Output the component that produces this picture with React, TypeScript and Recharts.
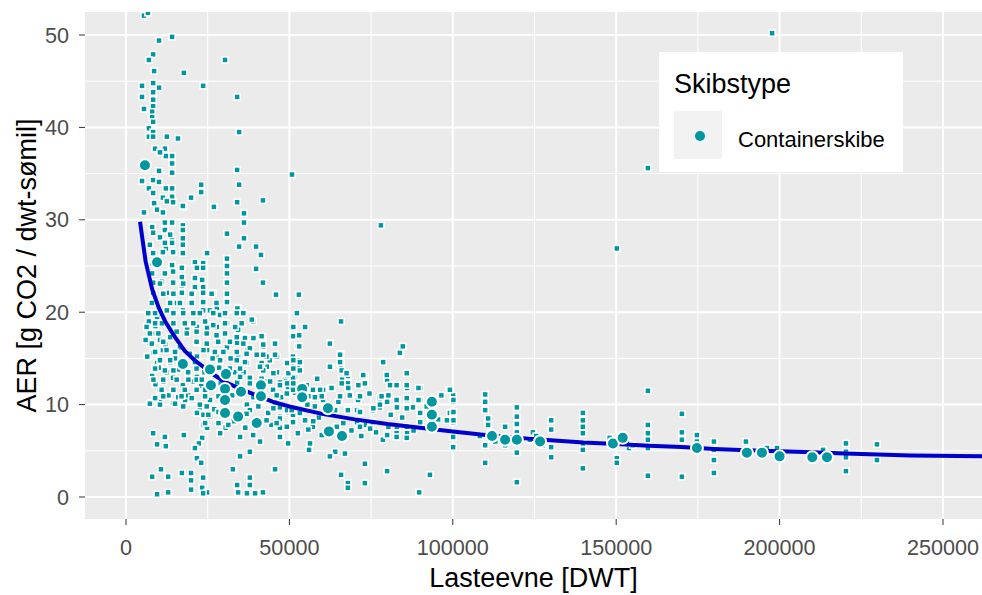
import { ScatterChart, Scatter, XAxis, YAxis, CartesianGrid, Legend } from 'recharts'

document.body.style.margin = '0'

const TEAL = '#0097A0'
const FIT_BLUE = '#0000CD'
const FONT = '"Liberation Sans", Arial, sans-serif'

const xTicks = [0, 50000, 100000, 150000, 200000, 250000]
const xMinor = [25000, 75000, 125000, 175000, 225000]
const yTicks = [0, 10, 20, 30, 40, 50]
const yMinor = [5, 15, 25, 35, 45]

// [lasteevne in 1000 DWT, AER]
const smallShips: [number, number][] = [
  [5.5, 52.1], [6.7, 52.4], [14.1, 49.8], [10.1, 49.4], [8.3, 47.9], [7.0, 47.3], [30.3, 47.3], [8.6, 46.1],
  [17.7, 45.9], [4.9, 44.5], [10.1, 44.3], [23.6, 44.5], [8.3, 44.8], [4.9, 43.3], [8.3, 43.8], [34.0, 43.3],
  [8.3, 43.0], [5.5, 42.0], [8.3, 42.3], [8.0, 41.7], [8.0, 41.1], [8.3, 40.6], [7.0, 39.9], [8.3, 39.5],
  [34.6, 39.5], [7.0, 39.0], [8.3, 39.0], [12.5, 39.0], [15.9, 38.8], [8.9, 37.7], [11.9, 37.7], [12.2, 36.9],
  [14.1, 36.9], [10.4, 37.3], [14.1, 36.1], [34.0, 35.4], [50.8, 34.9], [10.1, 35.3], [14.1, 35.1], [4.9, 34.2],
  [8.3, 34.3], [10.1, 34.1], [23.0, 33.8], [34.6, 33.8], [7.0, 33.4], [12.2, 33.4], [14.1, 33.4], [23.0, 33.0],
  [19.9, 32.4], [8.3, 32.9], [11.3, 32.4], [14.1, 32.5], [41.9, 32.1], [34.0, 31.9], [8.6, 31.8], [12.5, 32.0],
  [14.4, 31.9], [17.7, 31.4], [26.9, 31.4], [36.1, 30.7], [5.5, 30.8], [9.5, 31.1], [11.3, 30.8], [36.1, 29.7],
  [30.9, 28.5], [36.1, 28.0], [34.6, 27.1], [39.8, 27.1], [41.3, 26.2], [24.8, 26.4], [17.4, 29.4], [17.4, 28.9],
  [17.4, 28.0], [17.4, 27.3], [17.4, 26.4], [14.1, 29.7], [11.9, 28.9], [14.1, 27.8], [12.2, 26.9], [30.9, 25.8],
  [30.9, 25.0], [39.8, 24.7], [41.9, 23.2], [30.9, 24.2], [30.9, 23.2], [21.1, 25.4], [23.6, 25.3], [21.7, 24.8],
  [23.6, 24.8], [45.9, 21.9], [52.9, 21.9], [26.6, 22.1], [21.1, 23.7], [23.6, 22.7], [17.4, 31.5],
  [78.0, 29.4], [150.2, 26.9], [159.7, 35.6], [197.7, 50.2],
  [8.0, 29.2], [11.9, 29.7], [8.3, 28.6], [10.4, 28.1], [13.5, 28.4], [7.3, 27.3], [11.9, 27.5], [14.1, 27.5],
  [8.3, 26.4], [11.3, 26.5], [14.4, 26.5], [8.0, 25.3], [14.1, 25.1], [17.1, 24.8], [8.0, 24.2], [11.9, 24.2],
  [14.4, 24.4], [17.1, 23.8], [23.3, 23.5], [8.3, 23.2], [11.0, 23.3], [14.4, 23.2], [17.1, 22.9], [21.1, 22.7],
  [8.3, 22.1], [12.5, 22.1], [17.1, 22.1], [20.2, 22.1], [23.6, 22.1], [30.9, 22.0], [8.3, 21.1], [14.4, 21.1],
  [20.2, 21.1], [23.6, 21.1], [30.9, 21.1], [27.8, 20.5], [34.3, 20.5], [35.8, 19.9], [52.3, 19.9], [17.4, 20.2],
  [23.6, 20.2],
  [6.4, 18.4], [8.0, 17.7], [9.5, 19.5], [12.5, 20.2], [15.6, 21.0], [19.6, 21.0], [22.6, 19.9], [25.7, 20.2],
  [28.8, 19.7], [38.9, 19.0], [7.3, 16.7], [10.4, 17.0], [13.5, 17.3], [18.7, 18.1], [21.7, 18.4], [24.8, 18.3],
  [27.8, 18.4], [30.9, 18.8], [34.3, 18.1], [36.4, 17.3], [41.9, 17.3], [45.6, 16.7], [50.8, 18.4],
  [8.3, 15.6], [11.3, 15.9], [16.5, 16.2], [21.7, 16.7], [24.8, 15.9], [27.8, 16.8], [30.9, 16.2], [34.0, 16.7],
  [37.3, 15.9], [40.1, 15.4], [41.9, 16.2], [46.2, 15.2], [51.1, 15.2], [9.5, 14.5], [13.5, 14.6], [21.7, 15.2],
  [27.8, 15.2], [34.3, 15.2], [37.0, 14.5], [43.1, 14.1], [49.3, 14.5], [51.1, 14.0], [8.0, 13.1], [12.5, 13.5],
  [14.4, 12.9], [21.7, 13.0], [33.4, 13.5], [37.9, 12.9], [46.2, 13.5], [48.7, 12.7], [51.7, 13.0],
  [10.4, 11.6], [14.4, 11.6], [17.4, 12.1], [21.7, 11.6], [34.0, 12.4], [37.9, 12.3], [45.0, 11.6], [49.6, 11.9],
  [51.7, 11.3], [7.7, 10.2], [10.4, 10.3], [14.4, 10.2], [18.1, 10.5], [22.6, 9.7], [25.7, 10.5], [37.0, 10.0],
  [45.6, 10.2], [49.6, 9.2], [21.7, 9.1], [25.7, 8.7], [28.8, 8.0], [37.9, 9.4], [43.5, 9.1], [47.1, 8.7],
  [51.1, 8.9], [23.6, 7.8], [24.8, 7.5], [28.8, 6.9], [34.9, 6.5], [38.9, 6.7], [41.0, 6.0], [47.1, 6.5], [49.6, 5.8],
  [8.3, 6.9], [11.9, 6.5], [17.7, 6.7], [9.5, 5.7], [12.2, 5.5], [23.3, 6.4], [22.3, 5.8], [21.1, 5.3],
  [37.9, 4.9], [34.9, 4.4], [21.7, 4.2], [23.0, 3.7], [32.7, 3.0], [45.6, 3.0], [10.7, 3.0], [8.0, 2.2],
  [12.9, 2.2], [17.1, 2.6], [19.9, 2.6], [19.9, 1.8], [23.6, 2.1], [34.0, 1.3], [37.9, 2.1], [37.9, 1.3],
  [9.5, 0.3], [12.9, 0.5], [19.9, 0.8], [23.3, 1.0], [24.8, 0.5], [34.3, 0.5], [37.0, 0.4], [39.5, 0.4],
  [41.9, 0.5], [23.6, 0.4],
  [6.0, 17.0], [7.0, 19.0], [9.0, 18.5], [11.0, 18.8], [12.0, 16.5], [15.0, 15.0], [16.0, 13.8], [19.0, 13.5],
  [19.5, 15.5], [20.5, 12.5], [23.0, 12.0], [24.0, 13.5], [26.5, 15.0], [28.5, 14.0], [29.0, 12.3], [32.0, 15.0],
  [32.5, 11.0], [36.0, 13.5], [39.0, 10.8], [42.5, 12.5], [44.0, 14.8], [47.5, 10.8], [10.0, 14.0], [11.5, 12.5],
  [13.0, 11.0], [16.0, 10.8], [19.0, 11.0], [27.0, 9.5], [30.5, 7.5], [33.0, 8.2], [36.5, 7.5], [40.5, 9.8],
  [44.5, 7.8], [6.5, 15.2], [9.0, 12.2],
  [54.8, 18.4], [52.6, 17.5], [65.8, 19.0], [50.8, 17.3], [52.6, 16.3], [62.4, 16.7], [65.8, 15.5], [84.8, 16.3],
  [83.8, 15.5], [78.6, 14.7], [51.1, 14.6], [52.6, 14.8], [52.6, 14.1], [62.7, 14.1], [65.8, 14.6], [65.8, 13.9],
  [67.9, 13.1], [73.1, 13.1], [79.9, 13.2], [86.0, 13.4], [90.0, 11.8], [98.8, 11.6], [100.1, 11.0],
  [49.3, 13.2], [51.1, 12.9], [47.1, 12.4], [49.3, 12.3], [51.1, 11.6], [57.2, 11.6], [60.3, 11.6], [62.7, 11.8],
  [66.1, 12.7], [67.9, 12.3], [71.6, 12.1], [73.1, 12.3], [79.9, 12.7], [82.9, 12.1], [86.0, 11.8],
  [57.8, 10.8], [60.3, 10.5], [68.5, 11.0], [71.0, 10.5], [77.7, 10.7], [79.9, 10.3], [82.9, 10.5], [86.0, 10.5],
  [90.0, 10.5], [100.1, 10.5], [47.1, 9.7], [49.3, 9.4], [57.2, 9.4], [67.9, 9.4], [70.7, 9.4], [75.6, 9.4],
  [77.7, 9.7], [82.9, 9.7], [87.8, 9.7], [90.0, 9.1], [99.1, 9.1], [47.1, 8.5], [51.1, 8.1], [54.8, 8.3],
  [57.2, 7.6], [70.7, 8.1], [73.1, 7.8], [75.6, 8.1], [79.9, 7.5], [82.9, 7.6], [86.0, 6.9], [90.0, 8.1],
  [100.1, 8.1], [47.1, 7.5], [52.6, 6.9], [56.3, 5.8], [56.0, 5.1], [64.0, 4.9], [62.4, 4.4], [67.0, 4.7],
  [78.6, 6.2], [79.9, 6.7], [100.1, 5.4], [73.1, 3.6], [79.9, 2.8], [65.8, 2.4], [93.0, 2.4], [67.9, 1.5],
  [73.1, 1.5], [89.7, 0.5], [67.9, 1.0],
  [55.5, 10.0], [59.0, 8.6], [63.5, 9.0], [65.0, 10.3], [69.0, 7.2], [72.0, 6.6], [76.5, 7.0], [84.5, 8.6],
  [88.0, 7.2], [92.0, 9.8], [95.5, 8.4], [96.5, 11.0], [58.5, 12.8], [64.5, 7.6], [74.5, 11.2], [81.0, 8.9],
  [100.1, 10.3], [100.1, 9.1], [100.1, 8.3], [98.2, 8.3], [100.1, 6.5],
  [109.9, 11.1], [109.9, 10.3], [109.9, 9.4], [110.8, 8.5], [110.8, 7.8], [108.3, 6.6], [109.9, 5.6], [109.9, 3.7],
  [116.0, 7.6], [116.0, 5.6], [119.6, 9.7], [119.6, 8.7], [119.6, 7.9], [119.6, 7.0], [119.6, 4.8], [119.6, 1.6],
  [123.6, 6.2], [124.5, 7.0], [130.1, 8.3], [130.1, 7.3], [130.1, 5.4], [130.1, 4.3],
  [139.8, 9.1], [139.8, 8.3], [139.8, 7.6], [139.8, 6.9], [139.8, 5.8], [139.8, 5.1], [139.8, 3.1],
  [150.2, 4.2], [150.2, 3.7], [153.9, 5.3], [111.5, 6.9], [113.0, 6.0], [125.5, 6.6], [127.5, 5.6], [148.0, 6.4],
  [155.0, 5.6],
  [159.7, 11.5], [159.7, 7.8], [159.7, 6.9], [159.7, 6.2], [159.7, 5.3], [159.7, 2.3], [153.3, 5.8],
  [170.1, 9.0], [170.1, 7.0], [170.1, 6.2], [170.1, 2.2], [174.7, 6.7], [174.7, 6.0],
  [179.9, 6.0], [179.9, 5.1], [179.9, 4.0], [179.9, 2.6], [189.7, 6.0], [196.1, 5.3], [199.2, 5.3], [213.3, 5.1],
  [220.3, 5.8], [220.3, 4.9], [220.3, 4.3], [220.3, 2.8], [229.8, 5.7], [229.8, 4.0],
]

// the densest part of the cloud, read at higher zoom
const denseCore: [number, number][] = [
  [10.4, 23.1], [17.5, 23.1], [11.4, 22.0], [14.5, 22.0], [20.1, 22.0], [26.2, 22.0],
  [7.9, 21.0], [13.5, 21.0], [16.5, 21.0], [20.1, 21.0], [27.7, 21.0], [34.1, 20.4], [35.9, 19.9],
  [6.8, 19.9], [8.9, 19.9], [14.5, 19.9], [17.5, 19.9], [20.6, 19.9], [26.7, 19.9], [30.3, 19.9], [33.9, 19.9], [38.5, 19.2],
  [6.3, 18.4], [8.9, 18.8], [14.5, 18.8], [18.0, 18.8], [20.6, 18.8], [24.2, 19.0], [26.7, 18.6], [30.3, 18.8], [33.4, 18.4], [35.4, 18.8],
  [7.3, 17.7], [9.9, 17.7], [15.5, 17.9], [18.6, 17.7], [21.6, 17.9], [24.7, 17.7], [27.7, 17.5], [30.3, 17.7], [33.9, 17.3], [36.4, 17.2], [39.0, 17.2],
  [7.9, 16.6], [11.4, 16.8], [21.6, 16.8], [24.7, 16.6], [28.2, 16.8], [31.8, 16.8], [35.9, 16.6], [37.9, 16.1], [42.0, 16.3],
  [8.9, 15.7], [12.4, 15.9], [15.0, 15.7], [23.7, 15.9], [27.2, 15.7], [29.8, 15.7], [33.9, 15.7], [36.9, 15.5], [40.0, 15.4], [43.0, 15.2],
  [10.4, 14.8], [13.5, 14.8], [21.1, 14.6], [28.8, 14.8], [33.9, 14.8], [36.4, 14.6], [41.5, 14.5],
  [8.9, 13.9], [11.9, 13.7], [14.5, 13.7], [21.6, 13.9], [31.8, 13.9], [34.9, 13.9], [42.0, 13.7],
  [8.4, 12.7], [11.4, 12.7], [15.5, 12.7], [19.1, 12.7], [21.6, 12.7], [23.2, 12.7], [34.9, 13.0], [41.5, 12.8],
  [10.9, 11.6], [14.5, 11.6], [18.0, 11.6], [21.6, 11.6], [24.2, 11.6],
  [8.9, 10.7], [11.4, 10.9], [17.0, 10.9], [20.1, 10.7], [24.2, 10.9], [28.3, 10.9],
  [7.3, 10.1], [10.4, 10.0], [15.0, 10.1], [17.5, 9.8], [22.6, 10.0], [24.7, 9.8],
  [23.7, 8.9], [25.2, 8.9], [28.3, 9.2], [31.8, 9.0], [36.9, 9.0], [24.2, 8.0], [28.3, 8.0], [31.3, 7.8],
  [41.5, 17.4], [42.0, 16.5], [45.6, 16.6], [51.2, 18.4], [51.2, 17.4], [53.0, 17.5], [53.0, 16.3], [62.4, 16.6],
  [42.0, 15.4], [45.6, 15.4], [51.2, 14.8], [53.2, 14.6], [65.5, 15.4], [65.5, 14.6], [62.4, 14.1],
  [41.0, 14.1], [45.1, 13.4], [49.7, 13.4], [51.2, 13.9], [53.2, 13.7], [66.0, 13.7], [67.5, 13.4], [72.6, 13.2],
  [79.8, 13.2], [85.9, 13.4], [78.7, 14.6], [83.8, 15.6], [84.7, 16.3],
  [44.1, 12.5], [47.1, 12.1], [51.2, 12.3], [55.3, 12.1], [59.4, 11.6], [62.9, 11.8], [66.0, 12.3], [68.0, 11.8],
  [71.1, 12.1], [73.1, 12.3], [80.8, 12.1], [82.8, 12.1], [85.9, 12.1], [89.5, 11.8], [99.1, 11.6],
  [42.5, 10.9], [46.1, 11.0], [49.2, 11.2], [55.8, 10.9], [59.9, 10.9], [65.5, 10.9], [68.5, 11.0], [71.6, 10.9],
  [78.2, 10.9], [80.3, 11.0], [82.8, 10.5], [85.9, 10.7], [89.5, 10.5], [100.2, 10.5],
  [45.1, 9.6], [50.7, 9.4], [53.2, 9.1], [57.8, 9.8], [64.0, 9.4], [71.6, 9.2], [75.7, 9.6], [77.7, 10.0], [85.9, 9.6], [100.2, 9.2],
  [43.0, 8.3], [46.1, 8.0], [49.2, 7.6], [57.3, 8.2], [66.5, 8.0], [71.6, 7.6], [74.7, 7.4], [80.3, 7.6], [82.8, 6.9],
  [85.9, 7.6], [100.2, 8.3], [47.1, 6.5], [55.8, 7.3], [59.9, 6.7], [66.0, 6.5], [82.8, 6.5], [85.9, 6.4],
]

const largeShips: [number, number][] = [
  [5.8, 35.9], [9.5, 25.4], [17.4, 14.4], [25.7, 13.8], [26.0, 12.1], [30.6, 13.3], [30.3, 11.7], [30.3, 10.5],
  [30.3, 9.1], [35.2, 11.4], [34.3, 8.7], [41.3, 12.1], [41.3, 10.9], [40.0, 8.0], [53.9, 11.7], [53.9, 10.8],
  [61.8, 9.6], [62.1, 7.1], [66.1, 6.6], [93.6, 10.3], [93.6, 8.9], [93.6, 7.6], [112.0, 6.6], [116.0, 6.2],
  [119.6, 6.2], [126.7, 6.0], [149.0, 5.8], [152.0, 6.4], [174.7, 5.3], [190.0, 4.8], [194.6, 4.8], [200.0, 4.4],
  [210.0, 4.3], [214.5, 4.3],
]

const fitCurve: [number, number][] = [
  [4.3, 29.8], [5, 28], [6, 25.5], [8, 22.5], [10, 20.5], [12, 19], [15, 17.3], [18, 15.8], [21, 14.8],
  [24, 14.0], [27, 13.2], [30, 12.5], [35, 11.7], [40, 11.0], [45, 10.3], [50, 9.8], [60, 9.0], [70, 8.4],
  [80, 7.9], [90, 7.5], [100, 7.1], [110, 6.7], [120, 6.4], [130, 6.15], [140, 5.9], [150, 5.75], [160, 5.55],
  [170, 5.4], [180, 5.2], [190, 5.05], [200, 4.95], [210, 4.85], [220, 4.7], [230, 4.6], [240, 4.5], [262, 4.4],
]

const toRows = (pts: [number, number][]) => pts.map(([k, aer]) => ({ dwt: k * 1000, aer }))

function SquareDot(props: any) {
  const { cx, cy } = props
  if (cx == null || cy == null) return <g />
  return <rect x={cx - 3} y={cy - 3} width={6} height={6} fill={TEAL} stroke="#fff" strokeWidth={1.5} />
}

function BigDot(props: any) {
  const { cx, cy } = props
  if (cx == null || cy == null) return <g />
  return <circle cx={cx} cy={cy} r={6} fill={TEAL} stroke="#fff" strokeWidth={2} />
}

function XTitle(props: any) {
  const vb = props.viewBox || { x: 85, y: 519, width: 897, height: 76 }
  return (
    <text x={vb.x + vb.width / 2} y={vb.y + vb.height - 8} textAnchor="middle" fontSize={27} fontFamily={FONT} fill="#000">
      Lasteevne [DWT]
    </text>
  )
}

function YTitle(props: any) {
  const vb = props.viewBox || { x: 0, y: 12, width: 85, height: 507 }
  const x = vb.x + 27
  const y = vb.y + vb.height / 2
  return (
    <text x={x} y={y} transform={`rotate(-90, ${x}, ${y})`} textAnchor="middle" dominantBaseline="central"
      fontSize={27} fontFamily={FONT} fill="#000">
      AER [g CO2 / dwt-sømil]
    </text>
  )
}

function LegendBox() {
  return (
    <svg width={244} height={120} style={{ display: 'block' }}>
      <rect x={0} y={0} width={244} height={120} fill="#fff" />
      <text x={15} y={41} fontSize={27} fontFamily={FONT} fill="#000">Skibstype</text>
      <rect x={15} y={59} width={48} height={48} fill="#F2F2F2" />
      <circle cx={41} cy={84} r={5} fill={TEAL} />
      <text x={79} y={95} fontSize={22} fontFamily={FONT} fill="#000">Containerskibe</text>
    </svg>
  )
}

export default function App() {
  const tickStyle = { fill: '#4D4D4D', fontSize: 21.6, fontFamily: FONT }
  return (
    <div style={{ width: 982, height: 595, background: '#fff', fontFamily: FONT }}>
      <ScatterChart width={982} height={595} margin={{ top: 12, right: 0, bottom: 0, left: 0 }}>
        <CartesianGrid fill="#EBEBEB" stroke="#fff" strokeWidth={1} horizontalValues={yMinor} verticalValues={xMinor} />
        <CartesianGrid fill="none" stroke="#fff" strokeWidth={2} horizontalValues={yTicks} verticalValues={xTicks} />
        <XAxis type="number" dataKey="dwt" domain={[-12546, 261935]} allowDataOverflow ticks={xTicks}
          tick={tickStyle} tickLine={{ stroke: '#333' }} tickSize={6} tickMargin={15} axisLine={false} height={76}
          label={<XTitle />} />
        <YAxis type="number" dataKey="aer" domain={[-2.38, 52.49]} allowDataOverflow ticks={yTicks}
          tick={tickStyle} tickLine={{ stroke: '#333' }} tickSize={6} tickMargin={10} axisLine={false} width={85}
          label={<YTitle />} />
        <Legend layout="vertical" align="center" verticalAlign="middle"
          wrapperStyle={{ position: 'absolute', left: 659, top: 52, width: 244, height: 120 }}
          content={() => <LegendBox />} />
        <Scatter name="Containerskibe" data={toRows(smallShips)} shape={SquareDot} isAnimationActive={false} />
        <Scatter name="Containerskibe tæt" data={toRows(denseCore)} shape={SquareDot} isAnimationActive={false} />
        <Scatter name="fit" data={toRows(fitCurve)} line={{ stroke: FIT_BLUE, strokeWidth: 4 }} lineType="joint"
          shape={() => <g />} isAnimationActive={false} legendType="none" />
        <Scatter name="Containerskibe store" data={toRows(largeShips)} shape={BigDot} isAnimationActive={false} />
      </ScatterChart>
    </div>
  )
}
